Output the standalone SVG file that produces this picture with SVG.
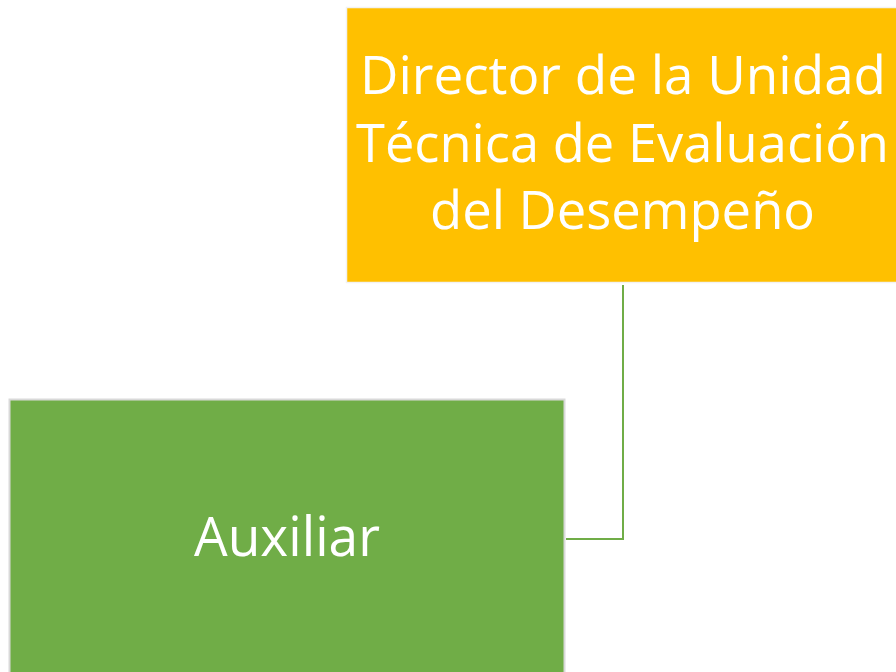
<svg xmlns="http://www.w3.org/2000/svg" width="896" height="672" viewBox="0 0 896 672">
<style>
.lbl{font-family:"Open Sans","Noto Sans","Liberation Sans",sans-serif;fill:#ffffff;text-anchor:middle;}
.conn{fill:none;stroke:#70AD47;stroke-width:2;}
</style>
<rect width="896" height="672" fill="#ffffff"/>
<g id="connectors">
<path class="conn" d="M623 285 V539 H566"/>
</g>
<g id="director">
<rect x="346.5" y="7.5" width="560" height="275" fill="#FFC000" stroke="#f2f2f2" stroke-width="1.5"/>
<text class="lbl" font-size="53" x="623" y="94" textLength="526" lengthAdjust="spacingAndGlyphs">Director de la Unidad</text>
<text class="lbl" font-size="53" x="622.5" y="162" textLength="533" lengthAdjust="spacingAndGlyphs">Técnica de Evaluación</text>
<text class="lbl" font-size="53" x="622.5" y="229" textLength="385" lengthAdjust="spacingAndGlyphs">del Desempeño</text>
</g>
<g id="auxiliar">
<rect x="9.5" y="399.5" width="555" height="285" fill="#70AD47" stroke="#d9d9d9" stroke-width="2"/>
<text class="lbl" font-size="54" x="287" y="556" textLength="186" lengthAdjust="spacingAndGlyphs">Auxiliar</text>
</g>
</svg>
